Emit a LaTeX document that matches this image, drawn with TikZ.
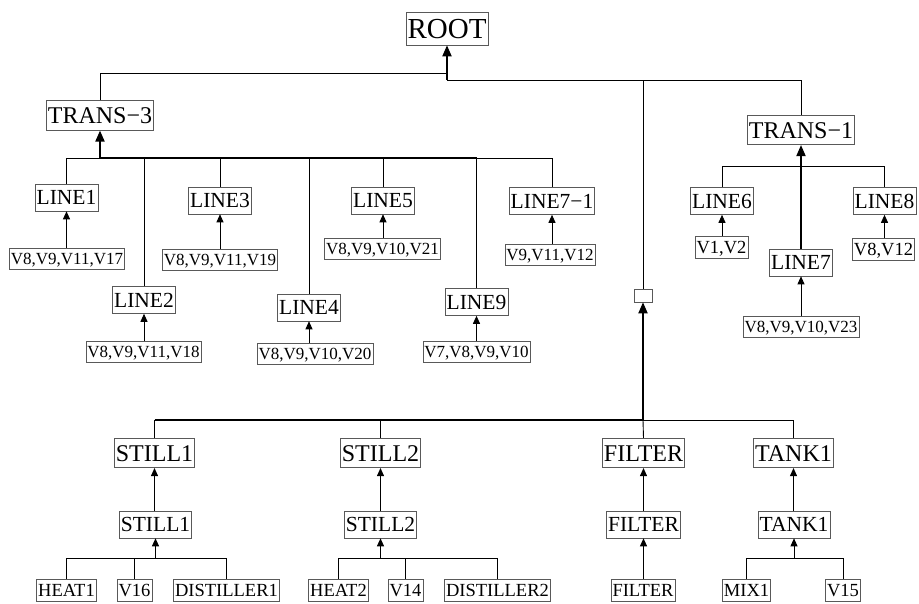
\documentclass[tikz,border=0pt]{standalone}
\usepackage{fontspec}
\setmainfont{Liberation Serif}
\usetikzlibrary{arrows.meta}
\tikzset{
  box/.style={draw=black!65, line width=0.6pt, fill=white, inner xsep=1.5pt, inner ysep=0pt, text depth=0pt, anchor=center},
  rootbox/.style={box, font=\fontsize{29}{29}\selectfont, text height=19pt, minimum height=33pt},
  bigbox/.style={box, font=\fontsize{24}{24}\selectfont, text height=16pt, minimum height=29.5pt},
  midbox/.style={box, font=\fontsize{21.5}{21.5}\selectfont, text height=14.2pt, minimum height=27pt},
  vbox/.style={box, font=\fontsize{17}{17}\selectfont, text height=11.3pt, minimum height=21pt},
  leafbox/.style={box, font=\fontsize{18.5}{18.5}\selectfont, text height=12.3pt, minimum height=22pt},
  emptybox/.style={box, minimum width=18pt, minimum height=13pt, inner sep=0pt},
  conn/.style={line width=0.9pt, black},
  thickconn/.style={line width=1.8pt, black},
  arr/.style={conn, -{Triangle[width=7pt,length=8pt]}},
  thickarr/.style={thickconn, -{Triangle[width=9pt,length=11pt]}},
}
\begin{document}
\begin{tikzpicture}[x=1pt,y=-1pt]
\useasboundingbox (0,0) rectangle (919,603);
% nodes
\node[rootbox] (root) at (447,28.5) {ROOT};
\node[bigbox] (t3) at (100,115.5) {TRANS−3};
\node[bigbox] (t1) at (801,130) {TRANS−1};
\node[midbox] (L1) at (66.5,197.5) {LINE1};
\node[vbox] (v17) at (67,258.5) {V8,V9,V11,V17};
\node[midbox] (L2) at (144,300) {LINE2};
\node[vbox] (v18) at (143.5,351.5) {V8,V9,V11,V18};
\node[midbox] (L3) at (220,200.5) {LINE3};
\node[vbox] (v19) at (220,259.5) {V8,V9,V11,V19};
\node[midbox] (L4) at (309,307.5) {LINE4};
\node[vbox] (v20) at (315,353.5) {V8,V9,V10,V20};
\node[midbox] (L5) at (383,200.5) {LINE5};
\node[vbox] (v21) at (382.5,248.5) {V8,V9,V10,V21};
\node[midbox] (L9) at (476.5,302) {LINE9};
\node[vbox] (v10) at (476.5,351.5) {V7,V8,V9,V10};
\node[midbox] (L71) at (552,201) {LINE7−1};
\node[vbox] (v12) at (550,255) {V9,V11,V12};
\node[midbox] (L6) at (722,201) {LINE6};
\node[leafbox] (v2) at (721.5,247.5) {V1,V2};
\node[midbox] (L8) at (884.5,201) {LINE8};
\node[leafbox] (v812) at (883.5,249.5) {V8,V12};
\node[midbox] (L7) at (801,262.5) {LINE7};
\node[vbox] (v23) at (801,327) {V8,V9,V10,V23};
\node[emptybox] (blank) at (643,295.5) {};
\node[bigbox] (s1) at (154.5,453) {STILL1};
\node[midbox] (s1m) at (155.5,524.5) {STILL1};
\node[bigbox] (s2) at (380.5,453) {STILL2};
\node[midbox] (s2m) at (380.5,524.5) {STILL2};
\node[bigbox] (f) at (643.5,453) {FILTER};
\node[midbox] (fm) at (643.5,524.5) {FILTER};
\node[leafbox] (fb) at (643,590) {FILTER};
\node[bigbox] (k) at (793.5,453) {TANK1};
\node[midbox] (km) at (794,524.5) {TANK1};
\node[leafbox] (heat1) at (66.5,590) {HEAT1};
\node[leafbox] (v16) at (134.5,590) {V16};
\node[leafbox] (dist1) at (226.5,590) {DISTILLER1};
\node[leafbox] (heat2) at (338.5,590) {HEAT2};
\node[leafbox] (v14) at (405.5,590) {V14};
\node[leafbox] (dist2) at (497.5,590) {DISTILLER2};
\node[leafbox] (mix1) at (746.5,590) {MIX1};
\node[leafbox] (v15) at (843,590) {V15};
% bus coordinates
\coordinate (ra) at (447,73);
\coordinate (rb) at (447,80);
\coordinate (b3) at (100,158);
\coordinate (b1) at (801,166);
\coordinate (bb) at (643,420);
\coordinate (c1) at (155.5,558);
\coordinate (c2) at (380.5,558);
\coordinate (c4) at (794,558);
% root level
\draw[conn] (t3.north) |- (ra);
\draw[conn] (rb) -- (t1.north |- rb) -- (t1.north);
\draw[conn] (blank.north) -- (blank.north |- rb);
\draw[thickarr] (rb) -- (root.south);
% TRANS-3 subtree
\draw[conn] (L1.north) |- (L71.north |- b3) -- (L71.north);
\draw[thickconn] (b3) -- (L9.north |- b3);
\draw[conn] (L2.north) -- (L2.north |- b3);
\draw[conn] (L3.north) -- (L3.north |- b3);
\draw[conn] (L4.north) -- (L4.north |- b3);
\draw[conn] (L5.north) -- (L5.north |- b3);
\draw[conn] (L9.north) -- (L9.north |- b3);
\draw[thickarr] (b3) -- (t3.south);
\draw[arr] (v17.north -| L1.south) -- (L1.south);
\draw[arr] (v18.north -| L2.south) -- (L2.south);
\draw[arr] (v19.north -| L3.south) -- (L3.south);
\draw[arr] (v20.north -| L4.south) -- (L4.south);
\draw[arr] (v21.north -| L5.south) -- (L5.south);
\draw[arr] (v10.north -| L9.south) -- (L9.south);
\draw[arr] (v12.north -| L71.south) -- (L71.south);
% TRANS-1 subtree
\draw[conn] (L6.north) |- (L8.north |- b1) -- (L8.north);
\draw[thickarr] (L7.north) -- (t1.south);
\draw[arr] (v2.north -| L6.south) -- (L6.south);
\draw[arr] (v812.north -| L8.south) -- (L8.south);
\draw[arr] (v23.north) -- (L7.south);
% lower group
\draw[thickarr] (bb) -- (blank.south);
\draw[conn] (s1.north) -- (s1.north |- bb);
\draw[thickconn] (s1.north |- bb) -- (bb);
\draw[conn] (s2.north) -- (s2.north |- bb);
\draw[conn] (bb) -- (k.north |- bb) -- (k.north);
\draw[conn] (f.north) -- (bb);
\draw[arr] (s1m.north -| s1.south) -- (s1.south);
\draw[arr] (s2m.north) -- (s2.south);
\draw[arr] (fm.north) -- (f.south);
\draw[arr] (km.north -| k.south) -- (k.south);
% leaves
\draw[conn] (heat1.north) |- (dist1.north |- c1) -- (dist1.north);
\draw[conn] (v16.north) -- (v16.north |- c1);
\draw[arr] (c1) -- (s1m.south);
\draw[conn] (heat2.north) |- (dist2.north |- c2) -- (dist2.north);
\draw[conn] (v14.north) -- (v14.north |- c2);
\draw[arr] (c2) -- (s2m.south);
\draw[arr] (fb.north -| fm.south) -- (fm.south);
\draw[conn] (mix1.north) |- (v15.north |- c4) -- (v15.north);
\draw[arr] (c4) -- (km.south);
\end{tikzpicture}
\end{document}
